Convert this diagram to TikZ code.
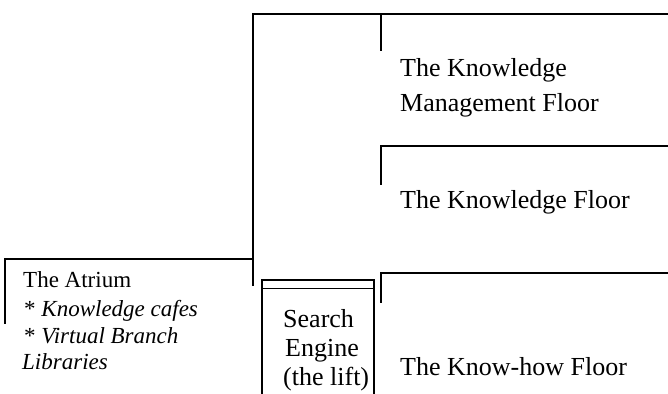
\documentclass[tikz,border=0pt]{standalone}
\usepackage{fontspec}
\setmainfont{Liberation Serif}
\begin{document}
\begin{tikzpicture}[x=1pt,y=-1pt,
  wall/.style={line width=1.4pt, line cap=rect},
  big/.style={anchor=base west, inner sep=0pt, font=\fontsize{26}{30}\selectfont},
  small/.style={anchor=base west, inner sep=0pt, font=\fontsize{23}{27}\selectfont}]
\useasboundingbox (0,0) rectangle (668,393);
% main frame
\draw[wall] (253,285) -- (253,14) -- (668,14);
\draw[wall] (381,50) -- (381,14);
% knowledge floor
\draw[wall] (381,184) -- (381,146) -- (668,146);
% know-how floor
\draw[wall] (381,302) -- (381,273) -- (668,273);
% atrium
\draw[wall] (5,323) -- (5,259) -- (253,259);
% lift
\draw[wall] (262,393) -- (262,280) -- (374,280) -- (374,393);
\draw[wall] (262,288.5) -- (374,288.5);
\draw[line width=2.6pt] (374,289) -- (374,302);
% texts
\node[big] (km1) at (400,77) {The Knowledge};
\node[big] (km2) at (400,111) {Management Floor};
\node[big] (kf) at (400,208) {The Knowledge Floor};
\node[big] (kh) at (400,375) {The Know-how Floor};
\node[big] (s1) at (283,327) {Search};
\node[big] (s2) at (285,356) {Engine};
\node[big] (s3) at (283,385) {(the lift)};
\node[small] (a1) at (23,287) {The Atrium};
\node[small] (a2) at (24,316) {* \textit{Knowledge cafes}};
\node[small] (a3) at (24,343) {* \textit{Virtual Branch}};
\node[small] (a4) at (22,369) {\textit{Libraries}};
\end{tikzpicture}
\end{document}
